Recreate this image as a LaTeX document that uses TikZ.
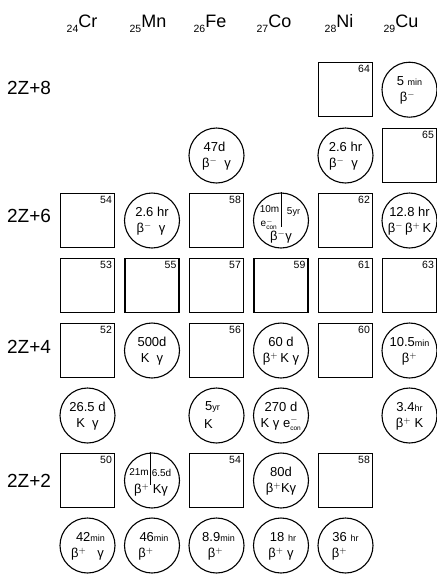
\documentclass[tikz,border=0pt]{standalone}
\usepackage{fontspec}
\setmainfont{Liberation Sans}
\newcommand\sm[1]{{\fontsize{9}{9}\selectfont #1}}
\newcommand\bm{β$^{-}$}
\newcommand\bp{β$^{+}$}
\newcommand\econ{e$^{-}_{\hbox{\fontsize{6.5}{6.5}\selectfont con}}$}
\newcommand\sqiso[4]{\node[sq] (#1) at (#2,#3) {}; \node[num] (#1n) at ([xshift=-3pt,yshift=-3pt]#1.north east) {#4};}
\newcommand\ciiso[7]{\node[ci] (#1) at (#2,#3) {}; \node[txt] (#1a) at ([xshift=#4pt,yshift=8.5pt]#1.center) {#5}; \node[txt] (#1b) at ([xshift=#6pt,yshift=-8.5pt]#1.center) {#7};}
\begin{document}
\begin{tikzpicture}[x=1pt,y=-1pt,
 sq/.style={draw, line width=1.1pt, minimum size=54pt, inner sep=0pt},
 ci/.style={draw, circle, line width=1.1pt, minimum size=55pt, inner sep=0pt},
 txt/.style={font=\fontsize{13}{13}\selectfont, inner sep=0pt},
 stxt/.style={font=\fontsize{10}{10}\selectfont, inner sep=0pt},
 num/.style={font=\fontsize{10.5}{10.5}\selectfont, inner sep=0pt, anchor=north east},
 hdr/.style={font=\fontsize{18}{18}\selectfont, inner sep=0pt, anchor=base},
 rowl/.style={font=\fontsize{19}{19}\selectfont, inner sep=0pt},
 split/.style={line width=1pt}]
\useasboundingbox (0,0) rectangle (437,582);
\def\cA{87.5}\def\cB{152}\def\cC{216.5}\def\cD{281}\def\cE{345.5}\def\cF{409.5}
\def\rH{89.7}\def\rG{155.5}\def\rF{220.5}\def\rE{285.5}\def\rD{350.5}\def\rC{415.5}\def\rB{480.5}\def\rA{545.5}
% headers
\node[hdr] (hcr) at (82,27) {\raisebox{-5pt}{\fontsize{10.5}{10.5}\selectfont 24}Cr};
\node[hdr] (hmn) at (148,27) {\raisebox{-5pt}{\fontsize{10.5}{10.5}\selectfont 25}Mn};
\node[hdr] (hfe) at (210,27) {\raisebox{-5pt}{\fontsize{10.5}{10.5}\selectfont 26}Fe};
\node[hdr] (hco) at (274,27) {\raisebox{-5pt}{\fontsize{10.5}{10.5}\selectfont 27}Co};
\node[hdr] (hni) at (339,27) {\raisebox{-5pt}{\fontsize{10.5}{10.5}\selectfont 28}Ni};
\node[hdr] (hcu) at (401,27) {\raisebox{-5pt}{\fontsize{10.5}{10.5}\selectfont 29}Cu};
% row labels
\node[rowl] (l8) at (29,88) {2Z+8};
\node[rowl] (l6) at (29,216) {2Z+6};
\node[rowl] (l4) at (29,347) {2Z+4};
\node[rowl] (l2) at (29,481) {2Z+2};
% row 2Z+8
\sqiso{ni64}{\cE}{\rH}{64}
\ciiso{cu65}{\cF}{\rH}{0}{5 \sm{min}}{-2}{\bm}
% row 2Z+7
\ciiso{fe59}{\cC}{\rG}{-2}{47d}{0}{\bm\ \ γ}
\ciiso{ni65}{\cE}{\rG}{0}{2.6 hr}{-2}{\bm\ \ γ}
\sqiso{cu65s}{\cF}{\rG}{65}
% row 2Z+6
\sqiso{cr54}{\cA}{\rF}{54}
\ciiso{mn56}{\cB}{\rF}{0}{2.6 hr}{-1}{\bm\ \ γ}
\sqiso{fe58}{\cC}{\rF}{58}
\node[ci] (co60) at (\cD,\rF) {};
\draw[split] (co60.north) -- ([yshift=-6pt]co60.center);
\node[stxt] (co60a) at ([xshift=-11.5pt,yshift=11pt]co60.center) {10m};
\node[stxt] (co60b) at ([xshift=-12pt,yshift=-3.5pt]co60.center) {\econ};
\node[stxt] (co60c) at ([xshift=12.5pt,yshift=9pt]co60.center) {5\sm{yr}};
\node[txt] (co60d) at ([xshift=0pt,yshift=-16.5pt]co60.center) {\bm γ};
\sqiso{ni62}{\cE}{\rF}{62}
\ciiso{cu64}{\cF}{\rF}{0}{12.8 hr}{0}{\bm\,\bp\,K}
% row 2Z+5
\sqiso{cr53}{\cA}{\rE}{53}
\sqiso{mn55}{\cB}{\rE}{55}
\sqiso{fe57}{\cC}{\rE}{57}
\sqiso{co59}{\cD}{\rE}{59}
\sqiso{ni61}{\cE}{\rE}{61}
\sqiso{cu63}{\cF}{\rE}{63}
% row 2Z+4
\sqiso{cr52}{\cA}{\rD}{52}
\ciiso{mn54}{\cB}{\rD}{0}{500d}{0}{K\ \ γ}
\sqiso{fe56}{\cC}{\rD}{56}
\ciiso{co58}{\cD}{\rD}{0}{60 d}{0}{\bp\,K γ}
\sqiso{ni60}{\cE}{\rD}{60}
\ciiso{cu62}{\cF}{\rD}{0}{10.5\sm{min}}{0}{\bp}
% row 2Z+3
\ciiso{cr51}{\cA}{\rC}{0}{26.5 d}{0}{K\ \ γ}
\ciiso{fe55}{\cC}{\rC}{-4}{5\sm{yr}}{-8}{K}
\ciiso{co57}{\cD}{\rC}{0}{270 d}{0}{K γ \econ}
\ciiso{cu61}{\cF}{\rC}{0}{3.4\sm{hr}}{0}{\bp\ K}
% row 2Z+2
\sqiso{cr50}{\cA}{\rB}{50}
\node[ci] (mn52) at (\cB,\rB) {};
\draw[split] ([xshift=-2pt]mn52.north) -- ([xshift=-2pt,yshift=-4pt]mn52.center);
\node[stxt] (mn52a) at ([xshift=-13pt,yshift=8pt]mn52.center) {21m};
\node[stxt] (mn52b) at ([xshift=9.5pt,yshift=8pt]mn52.center) {6.5d};
\node[txt] (mn52c) at ([xshift=-1pt,yshift=-9.5pt]mn52.center) {\bp\ Kγ};
\sqiso{fe54}{\cC}{\rB}{54}
\ciiso{co56}{\cD}{\rB}{0}{80d}{0}{\bp Kγ}
\sqiso{ni58}{\cE}{\rB}{58}
% row 2Z+1
\ciiso{cr49}{\cA}{\rA}{3}{42\sm{min}}{0}{\bp\ \ \ γ}
\ciiso{mn51}{\cB}{\rA}{2}{46\sm{min}}{-6}{\bp}
\ciiso{fe53}{\cC}{\rA}{2}{8.9\sm{min}}{-1}{\bp}
\ciiso{co55}{\cD}{\rA}{2}{18 \sm{hr}}{0}{\bp\ γ}
\ciiso{ni57}{\cE}{\rA}{0}{36 \sm{hr}}{-6}{\bp}
\end{tikzpicture}
\end{document}
